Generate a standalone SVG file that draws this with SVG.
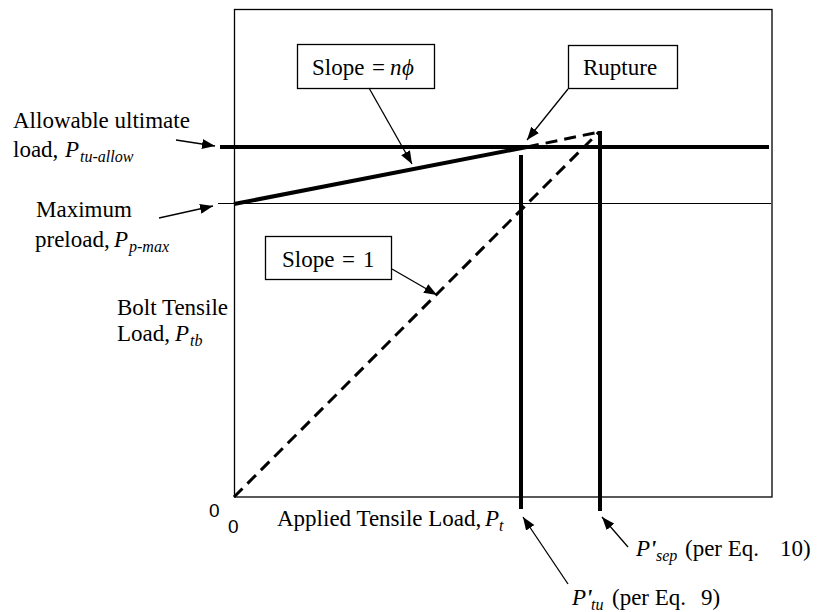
<svg xmlns="http://www.w3.org/2000/svg" width="818" height="612" viewBox="0 0 818 612">
<defs>
<marker id="ah" markerWidth="13" markerHeight="10" refX="13" refY="5" orient="auto" markerUnits="userSpaceOnUse"><path d="M0,0 L13,5 L0,10 z" fill="#000"/></marker>
</defs>
<style>
.t{font-family:"Liberation Serif","Times New Roman",serif;font-size:23px;fill:#000}
.i{font-style:italic}
.s{font-size:16px;font-style:italic}
.pr{font-weight:bold;font-style:italic}
.z{font-family:"Liberation Sans",Arial,sans-serif;font-size:19px;fill:#000}
.box{fill:#fff;stroke:#000;stroke-width:1.3}
.thin{stroke:#000;stroke-width:1.2;fill:none}
.thick{stroke:#000;stroke-width:4;fill:none}
.dash{stroke:#000;stroke-width:3;stroke-dasharray:12 7;fill:none}
.lead{stroke:#000;stroke-width:1.3;fill:none;marker-end:url(#ah)}
</style>
<rect width="818" height="612" fill="#fff"/>
<g id="frame"><rect x="234.5" y="9.5" width="537.5" height="487.5" fill="none" stroke="#000" stroke-width="1.3"/></g>
<g id="curves">
<path class="thin" d="M218,203.5 H771"/>
<path class="thick" d="M220,147 H769"/>
<path class="thick" d="M234,204 L527,147"/>
<path class="dash" d="M527,147 L599,132"/>
<path class="dash" d="M234,497 L599,132"/>
<path class="thick" d="M521,155 V509"/>
<path class="thick" d="M600,131 V511"/>
</g>
<g id="box-slope-nphi">
<rect class="box" x="297.5" y="44.5" width="137" height="44"/>
<text class="t" y="75"><tspan x="312">Slope</tspan><tspan x="372">=</tspan><tspan x="390" class="i">n</tspan><tspan x="402" class="i">ϕ</tspan></text>
</g>
<g id="box-rupture">
<rect class="box" x="568.5" y="45.5" width="109" height="43"/>
<text class="t" x="583" y="75">Rupture</text>
</g>
<g id="box-slope-1">
<rect class="box" x="265.5" y="236.5" width="126" height="43"/>
<text class="t" y="267"><tspan x="282">Slope</tspan><tspan x="342">=</tspan><tspan x="363">1</tspan></text>
</g>
<g id="label-allowable">
<text class="t" x="13" y="128">Allowable ultimate</text>
<text class="t" y="157"><tspan x="13">load,</tspan><tspan x="65" class="i">P</tspan><tspan x="80" y="162" class="s">tu-allow</tspan></text>
</g>
<g id="label-preload">
<text class="t" x="36" y="217">Maximum</text>
<text class="t" y="247"><tspan x="35">preload,</tspan><tspan x="114" class="i">P</tspan><tspan x="129" y="252" class="s">p-max</tspan></text>
</g>
<g id="label-yaxis">
<text class="t" x="117" y="315">Bolt Tensile</text>
<text class="t" y="341"><tspan x="117">Load,</tspan><tspan x="175" class="i">P</tspan><tspan x="190" y="346" class="s">tb</tspan></text>
</g>
<g id="label-origin">
<text class="z" x="209" y="517">0</text>
<text class="z" x="228" y="533">0</text>
</g>
<g id="label-xaxis">
<text class="t" y="526"><tspan x="277">Applied Tensile Load,</tspan><tspan x="485" class="i">P</tspan><tspan x="499" y="531" class="s">t</tspan></text>
</g>
<g id="label-psep">
<text class="t" y="556"><tspan x="636" class="i">P</tspan><tspan x="650" class="pr">'</tspan><tspan x="656" y="561" class="s">sep</tspan><tspan x="685" y="556">(per Eq.</tspan><tspan x="780">10)</tspan></text>
</g>
<g id="label-ptu">
<text class="t" y="605"><tspan x="572" class="i">P</tspan><tspan x="586" class="pr">'</tspan><tspan x="591" y="610" class="s">tu</tspan><tspan x="612" y="605">(per Eq.</tspan><tspan x="701">9)</tspan></text>
</g>
<g id="connectors">
<path class="lead" d="M176,140 L215,146"/>
<path class="lead" d="M159,218 L213,206"/>
<path class="lead" d="M369,88 L412,164"/>
<path class="lead" d="M568,89 L527,140"/>
<path class="lead" d="M392,269 L437,295"/>
<path class="lead" d="M568,584 L523,517"/>
<path class="lead" d="M628,547 L602,517"/>
</g>
</svg>
